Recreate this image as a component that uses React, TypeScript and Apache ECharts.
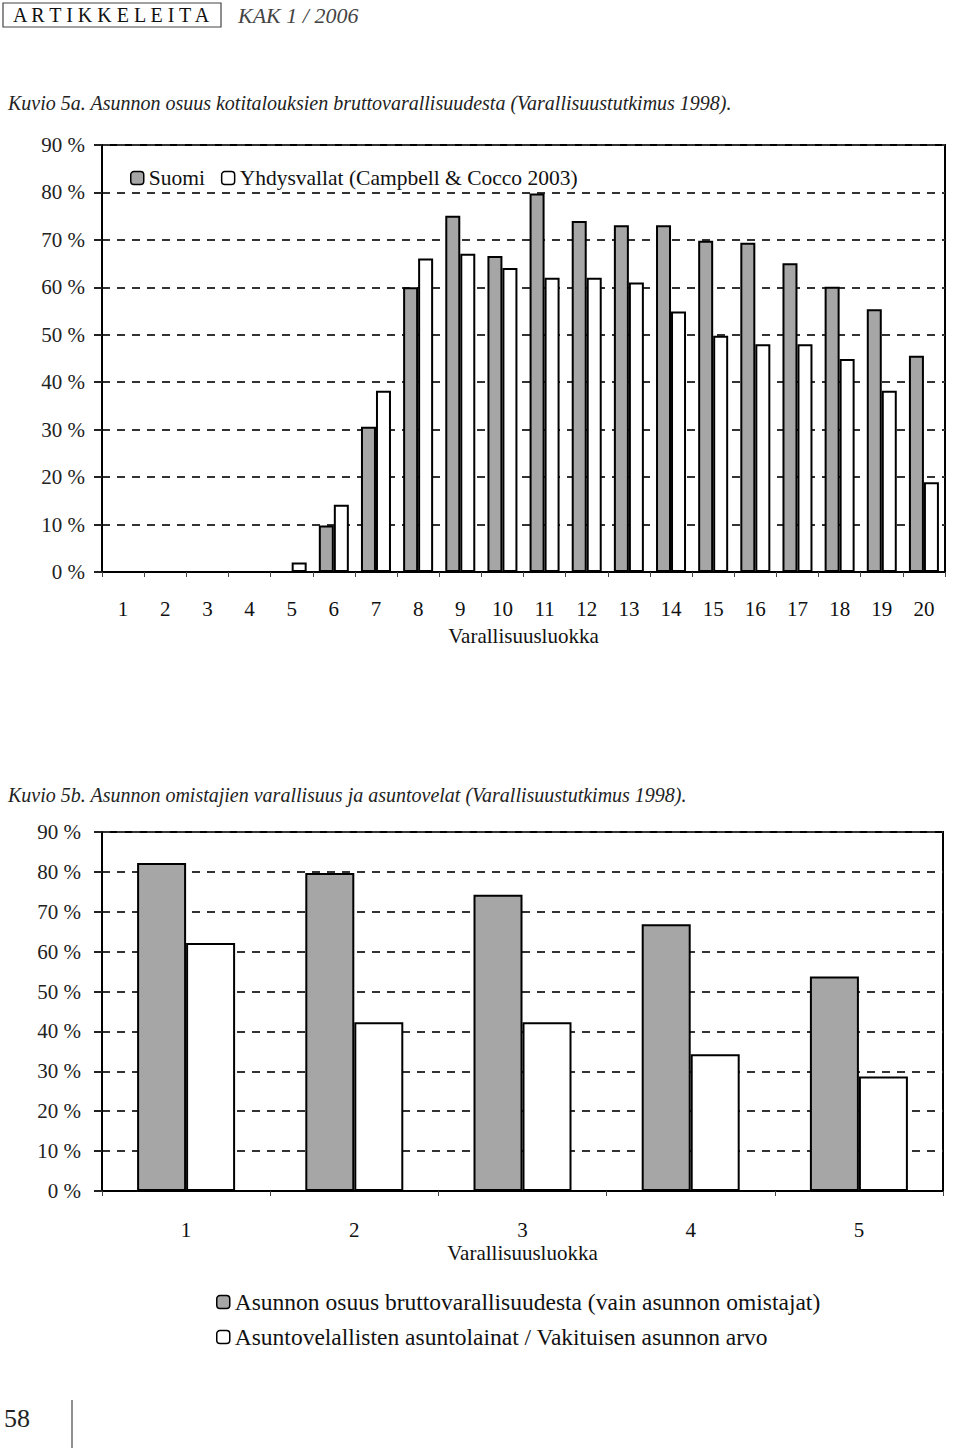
import React, { useEffect, useRef } from "react";
import * as echarts from "echarts";

const classes1 = ["1", "2", "3", "4", "5", "6", "7", "8", "9", "10", "11", "12", "13", "14", "15", "16", "17", "18", "19", "20"];
const suomi = [0, 0, 0, 0, 0, 9.8, 30.6, 60.0, 75.1, 66.6, 79.8, 74.0, 73.1, 73.1, 69.8, 69.4, 65.1, 60.1, 55.4, 45.6];
const usa = [0, 0, 0, 0, 2.0, 14.2, 38.2, 66.1, 67.1, 64.1, 62.0, 62.0, 61.0, 54.9, 49.8, 48.0, 48.0, 44.9, 38.2, 18.9];

const classes2 = ["1", "2", "3", "4", "5"];
const share = [82.2, 79.7, 74.3, 66.9, 53.8];
const loans = [62.2, 42.3, 42.3, 34.3, 28.7];

const name1a = "Suomi";
const name1b = "Yhdysvallat (Campbell & Cocco 2003)";
const name2a = "Asunnon osuus bruttovarallisuudesta (vain asunnon omistajat)";
const name2b = "Asuntovelallisten asuntolainat / Vakituisen asunnon arvo";

const SERIF = "'Liberation Serif', 'DejaVu Serif', serif";
const GRAY = "#a6a6a6";

function yAxisCfg(gridIndex: number, margin: number) {
  return {
    type: "value",
    gridIndex,
    min: 0,
    max: 90,
    interval: 10,
    axisLabel: {
      formatter: (v: number) => `${v} %`,
      fontFamily: SERIF,
      fontSize: 21,
      color: "#222",
      margin,
    },
    axisLine: { show: true, lineStyle: { color: "#000", width: 2 } },
    axisTick: { show: true, length: 8, lineStyle: { color: "#222", width: 2 } },
    splitLine: { show: true, lineStyle: { color: "#333", width: 2, type: [8, 7] } },
  };
}

function xAxisCfg(gridIndex: number, data: string[], margin: number, nameGap: number) {
  return {
    type: "category",
    gridIndex,
    data,
    name: "Varallisuusluokka",
    nameLocation: "middle",
    nameGap,
    nameTextStyle: { fontFamily: SERIF, fontSize: 21, color: "#111" },
    axisLabel: { fontFamily: SERIF, fontSize: 21, color: "#111", margin },
    axisLine: { show: true, lineStyle: { color: "#000", width: 2 } },
    axisTick: { show: true, length: 5, lineStyle: { color: "#444", width: 1 } },
    splitLine: { show: false },
  };
}

export default function App() {
  const ref = useRef<HTMLDivElement>(null);
  useEffect(() => {
    if (!ref.current) return;
    const chart = echarts.init(ref.current, undefined, { renderer: "svg" });
    const option: any = {
      animation: false,
      backgroundColor: "#fff",
      grid: [
        { left: 102, top: 145, width: 843, height: 427, show: true, borderColor: "#000", borderWidth: 2, backgroundColor: "transparent" },
        { left: 102, top: 832, width: 841, height: 359, show: true, borderColor: "#000", borderWidth: 2, backgroundColor: "transparent" },
      ],
      xAxis: [xAxisCfg(0, classes1, 26, 53), xAxisCfg(1, classes2, 28, 51)],
      yAxis: [yAxisCfg(0, 17), yAxisCfg(1, 21)],
      legend: [
        {
          data: [name1a, name1b],
          left: 125,
          top: 162,
          itemWidth: 13,
          itemHeight: 13,
          itemGap: 16,
          textStyle: { fontFamily: SERIF, fontSize: 21.5, color: "#111" },
          itemStyle: { borderWidth: 1.5, borderColor: "#000" },
        },
        {
          data: [name2a, name2b],
          orient: "vertical",
          left: 211,
          top: 1285,
          itemWidth: 13,
          itemHeight: 13,
          itemGap: 11,
          textStyle: { fontFamily: SERIF, fontSize: 23.5, color: "#111" },
          itemStyle: { borderWidth: 1.5, borderColor: "#000" },
        },
      ],
      series: [
        {
          type: "bar",
          name: name1a,
          xAxisIndex: 0,
          yAxisIndex: 0,
          data: suomi,
          barWidth: 15,
          barGap: "0%",
          itemStyle: { color: GRAY, borderColor: "#000", borderWidth: 2 },
        },
        {
          type: "bar",
          name: name1b,
          xAxisIndex: 0,
          yAxisIndex: 0,
          data: usa,
          barWidth: 15,
          barGap: "0%",
          itemStyle: { color: "#fff", borderColor: "#000", borderWidth: 2 },
        },
        {
          type: "bar",
          name: name2a,
          xAxisIndex: 1,
          yAxisIndex: 1,
          data: share,
          barWidth: 49,
          barGap: "0%",
          itemStyle: { color: GRAY, borderColor: "#000", borderWidth: 2 },
        },
        {
          type: "bar",
          name: name2b,
          xAxisIndex: 1,
          yAxisIndex: 1,
          data: loans,
          barWidth: 49,
          barGap: "0%",
          itemStyle: { color: "#fff", borderColor: "#000", borderWidth: 2 },
        },
      ],
      graphic: [
        {
          type: "rect",
          shape: { x: 3, y: 3, width: 218, height: 24 },
          style: { fill: "none", stroke: "#444", lineWidth: 1.2 },
        },
        {
          type: "text",
          x: 13,
          y: 15,
          style: { text: "A R T I K K E L E I T A", font: `20px ${SERIF}`, fill: "#111", textVerticalAlign: "middle" },
        },
        {
          type: "text",
          x: 238,
          y: 15,
          style: { text: "KAK 1 / 2006", font: `italic 22px ${SERIF}`, fill: "#444", textVerticalAlign: "middle" },
        },
        {
          type: "text",
          x: 8,
          y: 103,
          style: {
            text: "Kuvio 5a. Asunnon osuus kotitalouksien bruttovarallisuudesta (Varallisuustutkimus 1998).",
            font: `italic 20px ${SERIF}`,
            fill: "#222",
            textVerticalAlign: "middle",
          },
        },
        {
          type: "text",
          x: 8,
          y: 795,
          style: {
            text: "Kuvio 5b. Asunnon omistajien varallisuus ja asuntovelat (Varallisuustutkimus 1998).",
            font: `italic 20px ${SERIF}`,
            fill: "#222",
            textVerticalAlign: "middle",
          },
        },
        {
          type: "text",
          x: 4,
          y: 1418,
          style: { text: "58", font: `26px ${SERIF}`, fill: "#222", textVerticalAlign: "middle" },
        },
        {
          type: "line",
          shape: { x1: 72, y1: 1400, x2: 72, y2: 1448 },
          style: { stroke: "#222", lineWidth: 1 },
        },
      ],
    };
    chart.setOption(option);
    return () => chart.dispose();
  }, []);
  return <div ref={ref} style={{ position: "absolute", left: 0, top: 0, width: 960, height: 1452 }} />;
}
